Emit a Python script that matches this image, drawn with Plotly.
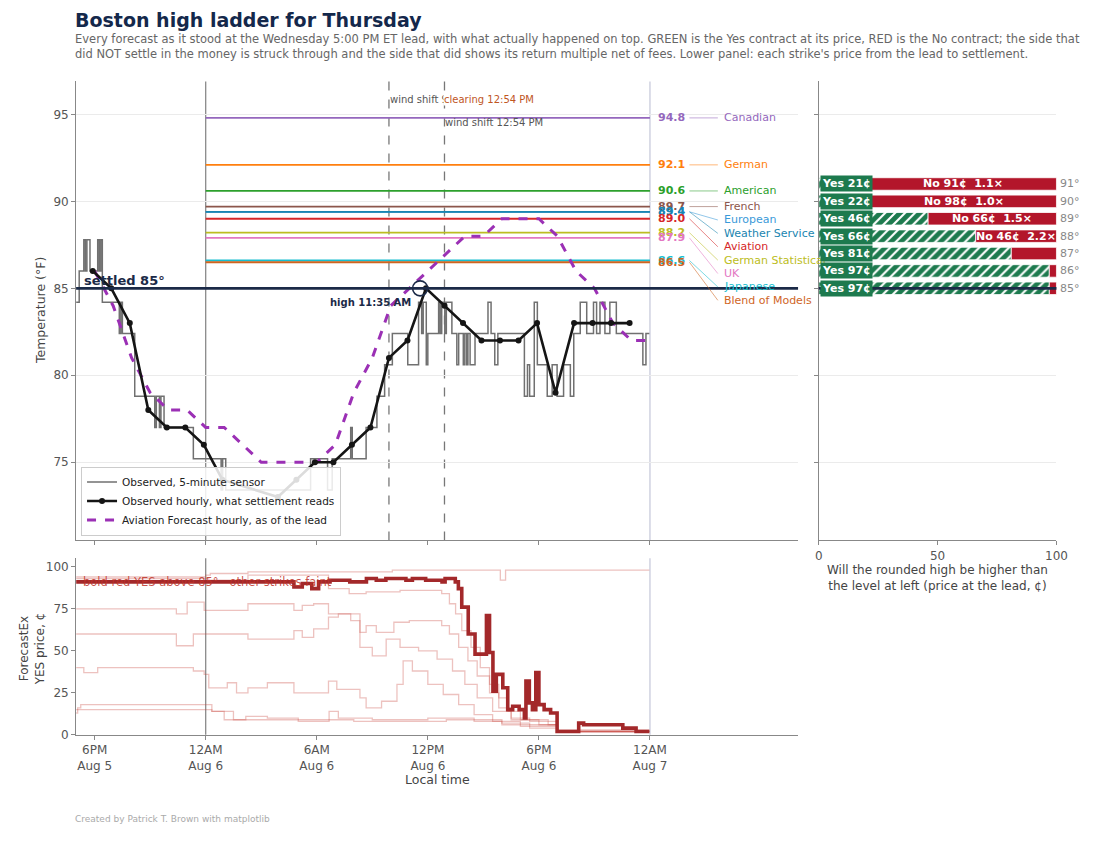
import plotly.graph_objects as go
import pandas as pd

YEAR = "2026-"

# ---- observed temperatures ----
obs5_time = ["08-05 17:00", "08-05 17:10", "08-05 17:25", "08-05 17:30", "08-05 17:35", "08-05 17:45",
             "08-05 18:10", "08-05 18:15", "08-05 18:20", "08-05 18:25", "08-05 19:20", "08-05 19:25",
             "08-05 19:30", "08-05 20:10", "08-05 21:15", "08-05 21:20", "08-05 21:30", "08-05 21:35",
             "08-05 21:45", "08-05 23:20", "08-06 00:50", "08-06 00:55", "08-06 01:05", "08-06 05:40",
             "08-06 06:35", "08-06 06:50", "08-06 07:50", "08-06 07:55", "08-06 08:40", "08-06 09:15",
             "08-06 09:40", "08-06 10:05", "08-06 10:55", "08-06 11:30", "08-06 11:40", "08-06 11:45",
             "08-06 11:55", "08-06 12:00", "08-06 12:35", "08-06 12:40", "08-06 12:45", "08-06 12:55",
             "08-06 13:00", "08-06 13:18", "08-06 13:34", "08-06 13:40", "08-06 13:55", "08-06 14:00",
             "08-06 14:06", "08-06 14:10", "08-06 14:17", "08-06 14:33", "08-06 15:15", "08-06 15:25",
             "08-06 15:37", "08-06 15:47", "08-06 17:13", "08-06 17:23", "08-06 17:30", "08-06 17:45",
             "08-06 17:55", "08-06 18:27", "08-06 18:43", "08-06 18:59", "08-06 19:20", "08-06 19:42",
             "08-06 19:53", "08-06 20:14", "08-06 20:35", "08-06 20:57", "08-06 21:07", "08-06 21:18",
             "08-06 21:34", "08-06 21:50", "08-06 22:11", "08-06 23:37", "08-06 23:47", "08-06 23:58"]
obs5_temp = [84.2, 86.0, 87.8, 86.0, 87.8, 86.0,
             87.8, 86.0, 87.8, 84.2, 82.4, 84.2,
             82.4, 78.8, 77.0, 78.8, 77.0, 78.8,
             77.0, 75.2, 73.4, 75.2, 73.4, 75.2,
             73.4, 75.2, 77.0, 75.2, 77.0, 78.8,
             80.6, 82.4, 80.6, 84.2, 82.4, 84.2,
             80.6, 82.4, 84.2, 82.4, 84.2, 82.4,
             84.2, 82.4, 80.6, 82.4, 80.6, 82.4,
             80.6, 82.4, 80.6, 82.4, 84.2, 82.4,
             80.6, 82.4, 78.8, 80.6, 78.8, 84.2,
             80.6, 78.8, 80.6, 78.8, 80.6, 78.8,
             82.4, 84.2, 82.4, 84.2, 82.4, 84.2,
             82.4, 84.2, 82.4, 80.6, 82.4, 82.4]

hourly_time = ["08-05 17:54", "08-05 18:54", "08-05 19:54", "08-05 20:54", "08-05 21:54", "08-05 22:54",
               "08-05 23:54", "08-06 00:54", "08-06 03:54", "08-06 04:54", "08-06 05:54", "08-06 06:54",
               "08-06 07:54", "08-06 08:54", "08-06 09:54", "08-06 10:54", "08-06 11:54", "08-06 12:54",
               "08-06 13:54", "08-06 14:54", "08-06 15:54", "08-06 16:54", "08-06 17:54", "08-06 18:54",
               "08-06 19:54", "08-06 20:54", "08-06 21:54", "08-06 22:54"]
hourly_temp = [86, 85, 83, 78, 77, 77, 76, 74, 73, 74, 75, 75, 76, 77, 81, 82, 85, 84,
               83, 82, 82, 82, 83, 79, 83, 83, 83, 83]

avn_time = ["08-05 18:00", "08-05 19:00", "08-05 20:00", "08-05 21:00", "08-05 22:00", "08-05 23:00",
            "08-06 00:00", "08-06 01:00", "08-06 02:00", "08-06 03:00", "08-06 04:00", "08-06 05:00",
            "08-06 06:00", "08-06 07:00", "08-06 08:00", "08-06 09:00", "08-06 10:00", "08-06 11:00",
            "08-06 12:00", "08-06 13:00", "08-06 14:00", "08-06 15:00", "08-06 16:00", "08-06 17:00",
            "08-06 18:00", "08-06 19:00", "08-06 20:00", "08-06 21:00", "08-06 22:00", "08-06 23:00",
            "08-07 00:00"]
avn_temp = [86, 84, 81, 79, 78, 78, 77, 77, 76, 75, 75, 75, 75, 76, 79, 81, 84, 85,
            86, 87, 88, 88, 89, 89, 89, 88, 86, 85, 83, 82, 82]

settled_temp = 85
high_time = "08-06 11:35"
high_temp = 85

# ---- model forecasts for the day, as of the lead ----
model_names = ["Canadian", "German", "American", "French", "European", "Weather Service",
               "Aviation", "German Statistical", "UK", "Japanese", "Blend of Models"]
model_values = [94.8, 92.1, 90.6, 89.7, 89.4, 89.4, 89.0, 88.2, 87.9, 86.6, 86.5]
forecast_start = "08-06 00:00"
forecast_end = "08-07 00:00"

event_time = ["08-06 09:54", "08-06 12:54"]

# ---- ladder at the lead ----
ladder_strikes = [91, 90, 89, 88, 87, 86, 85]
ladder_yes = [21, 22, 46, 66, 81, 97, 97]
ladder_no = [91, 98, 66, 46, None, None, None]
ladder_mult = [1.1, 1.0, 1.5, 2.2, None, None, None]

# ---- ForecastEx YES prices from lead to settlement ----
bold_time = ["08-05 17:00", "08-06 04:46", "08-06 05:13", "08-06 05:44", "08-06 06:06", "08-06 06:43",
             "08-06 07:47", "08-06 08:41", "08-06 09:13", "08-06 09:44", "08-06 10:27", "08-06 10:49",
             "08-06 11:10", "08-06 11:53", "08-06 12:46", "08-06 12:56", "08-06 13:29", "08-06 13:39",
             "08-06 13:50", "08-06 14:11", "08-06 14:33", "08-06 15:10", "08-06 15:20", "08-06 15:31",
             "08-06 15:42", "08-06 16:03", "08-06 16:19", "08-06 16:35", "08-06 16:56", "08-06 17:13",
             "08-06 17:18", "08-06 17:29", "08-06 17:39", "08-06 17:50", "08-06 18:00", "08-06 18:17",
             "08-06 18:38", "08-06 18:59", "08-06 20:09", "08-06 20:25", "08-06 22:32", "08-06 23:15",
             "08-06 23:58"]
bold_price = [91, 88, 90, 87, 91, 92,
              91, 93, 92, 93, 93, 92,
              93, 92, 91, 93, 91, 87,
              76, 60, 48, 71, 49, 26,
              36, 28, 15, 17, 15, 10,
              32, 19, 15, 37, 18, 15,
              13, 2, 7, 6, 4, 2,
              2]

faint_times = [
    ["08-05 17:00", "08-06 00:00", "08-06 00:15", "08-06 02:17", "08-06 10:05", "08-06 15:55",
     "08-06 16:12", "08-06 23:58"],
    ["08-05 17:00", "08-06 00:10", "08-06 02:17", "08-06 06:38", "08-06 07:45", "08-06 08:40",
     "08-06 10:30", "08-06 12:45", "08-06 13:10", "08-06 13:30", "08-06 13:50", "08-06 14:20",
     "08-06 14:50", "08-06 15:20", "08-06 15:50", "08-06 16:20", "08-06 17:00", "08-06 18:30",
     "08-06 19:00", "08-06 23:58"],
    ["08-05 17:00", "08-05 22:25", "08-05 23:00", "08-05 23:55", "08-06 02:17", "08-06 04:46",
     "08-06 05:13", "08-06 05:50", "08-06 06:38", "08-06 08:20", "08-06 08:40", "08-06 09:13",
     "08-06 10:10", "08-06 11:00", "08-06 12:45", "08-06 13:10", "08-06 13:40", "08-06 14:10",
     "08-06 14:40", "08-06 15:20", "08-06 15:50", "08-06 16:30", "08-06 17:30", "08-06 19:00",
     "08-06 23:58"],
    ["08-05 17:00", "08-05 22:25", "08-05 23:20", "08-06 02:17", "08-06 04:46", "08-06 05:13",
     "08-06 05:50", "08-06 06:38", "08-06 07:10", "08-06 07:50", "08-06 08:20", "08-06 09:00",
     "08-06 09:45", "08-06 10:30", "08-06 11:30", "08-06 12:30", "08-06 13:20", "08-06 14:00",
     "08-06 14:40", "08-06 15:30", "08-06 16:30", "08-06 18:00", "08-06 19:00", "08-06 23:58"],
    ["08-05 17:00", "08-05 17:25", "08-05 18:10", "08-05 23:20", "08-05 23:55", "08-06 00:10",
     "08-06 01:10", "08-06 01:40", "08-06 02:17", "08-06 03:20", "08-06 04:46", "08-06 06:38",
     "08-06 07:05", "08-06 08:20", "08-06 08:40", "08-06 09:30", "08-06 10:20", "08-06 10:40",
     "08-06 11:10", "08-06 12:00", "08-06 12:50", "08-06 13:40", "08-06 14:30", "08-06 15:30",
     "08-06 17:00", "08-06 19:00", "08-06 23:58"],
    ["08-05 17:00", "08-05 17:05", "08-05 17:15", "08-06 00:05", "08-06 00:20", "08-06 01:30",
     "08-06 02:10", "08-06 03:20", "08-06 05:00", "08-06 06:40", "08-06 07:10", "08-06 09:00",
     "08-06 12:00", "08-06 14:30", "08-06 16:00", "08-06 19:00", "08-06 23:58"],
    ["08-05 17:00", "08-06 00:00", "08-06 00:20", "08-06 01:00", "08-06 02:30", "08-06 05:00",
     "08-06 08:00", "08-06 10:00", "08-06 13:00", "08-06 16:00", "08-06 17:30", "08-06 19:00",
     "08-06 23:58"],
]
faint_prices = [
    [94, 95, 96, 97, 98, 92, 98, 98],
    [93, 92, 95, 87, 84, 85, 86, 84, 78, 72, 62, 52, 40, 30, 22, 14, 9, 6, 3, 3],
    [75, 72, 79, 74, 78, 74, 77, 78, 72, 61, 65, 61, 67, 68, 65, 60, 52, 44, 35, 25, 16, 10, 8, 2, 2],
    [60, 53, 60, 57, 62, 58, 63, 70, 72, 68, 52, 47, 57, 52, 50, 45, 38, 30, 22, 14, 9, 6, 2, 2],
    [40, 37, 40, 38, 36, 28, 31, 25, 28, 31, 25, 32, 27, 22, 16, 20, 30, 44, 38, 30, 24, 18, 12, 8, 5, 2, 2],
    [13, 16, 18, 18, 14, 9, 11, 10, 8, 14, 10, 9, 10, 8, 6, 2, 2],
    [15, 15, 14, 9, 9, 9, 8, 8, 9, 7, 4, 2, 2],
]

time_ticks = ["08-05 18:00", "08-06 00:00", "08-06 06:00", "08-06 12:00", "08-06 18:00", "08-07 00:00"]
time_tick_text = ["6PM<br>Aug 5", "12AM<br>Aug 6", "6AM<br>Aug 6", "12PM<br>Aug 6", "6PM<br>Aug 6", "12AM<br>Aug 7"]


def ts(s):
    if isinstance(s, list):
        return pd.to_datetime([YEAR + v for v in s])
    return pd.Timestamp(YEAR + s)


# styles
FONT = "DejaVu Sans"
NAVY = "#1b2a47"
GREEN = "#1d7a4e"
RED = "#b3162b"
model_colors = {"Canadian": "#9467bd", "German": "#ff7f0e", "American": "#2ca02c", "French": "#8c564b",
                "European": "#3a9ad9", "Weather Service": "#1a85b0", "Aviation": "#d62728",
                "German Statistical": "#bcbd22", "UK": "#e377c2", "Japanese": "#17becf",
                "Blend of Models": "#d0651f"}
LABEL_GAP = 0.77

# the page puts the figure 8px in from the top-left corner, so the figure is
# 8px smaller and every window pixel position is shifted back by 8
PAGE_OFF = 8
W, H = 1100 - PAGE_OFF, 843 - PAGE_OFF


def fx(x):
    return (x - PAGE_OFF) / W


def fy(y):
    return 1 - (y - PAGE_OFF) / H


MAIN_X = [fx(73), fx(805)]
LAD_X = [fx(826), fx(1067)]
MAIN_Y = [fy(545), fy(82)]
BOT_Y = [fy(741), fy(563)]


def paper_note(x, y, text, size, color, **kw):
    # annotation placed by window pixel position
    d = dict(x=fx(x), y=fy(y), xref="paper", yref="paper", text=text, showarrow=False,
             xanchor="center", yanchor="middle", borderpad=0, font=dict(size=size, color=color))
    d.update(kw)
    return d


fig = go.Figure()

# forecast lines (below everything else)
for name, val in zip(model_names, model_values):
    fig.add_trace(go.Scatter(x=[ts(forecast_start), ts(forecast_end)], y=[val, val], mode="lines",
                             line=dict(color=model_colors[name], width=1.8), showlegend=False,
                             hoverinfo="skip", xaxis="x", yaxis="y"))

fig.add_trace(go.Scatter(x=ts(obs5_time), y=obs5_temp, mode="lines", name="Observed, 5-minute sensor",
                         line=dict(color="#707070", width=1.5, shape="hv"), legendrank=1,
                         xaxis="x", yaxis="y"))
fig.add_trace(go.Scatter(x=ts(avn_time), y=avn_temp, mode="lines", name="Aviation Forecast hourly, as of the lead",
                         line=dict(color="#9b30b5", width=3, dash="dash"), legendrank=3,
                         xaxis="x", yaxis="y"))
fig.add_trace(go.Scatter(x=ts(hourly_time), y=hourly_temp, mode="lines+markers",
                         name="Observed hourly, what settlement reads",
                         line=dict(color="#151515", width=2.6), marker=dict(size=6, color="#151515"),
                         legendrank=2, xaxis="x", yaxis="y"))
fig.add_trace(go.Scatter(x=[ts(high_time)], y=[high_temp], mode="markers", showlegend=False,
                         marker=dict(size=15, color="rgba(0,0,0,0)", line=dict(color=NAVY, width=1.6)),
                         xaxis="x", yaxis="y"))

# price history panel
for t, p in zip(faint_times, faint_prices):
    fig.add_trace(go.Scatter(x=ts(t), y=p, mode="lines", showlegend=False,
                             line=dict(color="rgba(200,70,60,0.33)", width=1.3, shape="hv"),
                             xaxis="x2", yaxis="y2"))
fig.add_trace(go.Scatter(x=ts(bold_time), y=bold_price, mode="lines", showlegend=False,
                         line=dict(color="#a3282a", width=3.6, shape="hv"), xaxis="x2", yaxis="y2"))

# ladder bars
fig.add_trace(go.Bar(y=ladder_strikes, x=ladder_yes, base=0, orientation="h", width=0.72,
                     marker=dict(color=GREEN, line=dict(color="white", width=0.8),
                                 pattern=dict(shape="/", fgcolor="white", bgcolor=GREEN, size=7,
                                              solidity=0.3, fillmode="replace")),
                     showlegend=False, xaxis="x3", yaxis="y3"))
fig.add_trace(go.Bar(y=ladder_strikes, x=[100 - v for v in ladder_yes], base=ladder_yes, orientation="h",
                     width=0.72, marker=dict(color=RED, line=dict(color="white", width=0.8)),
                     showlegend=False, xaxis="x3", yaxis="y3"))

shapes = []
# midnight lines through both panels
for xref, yref in [("x", "y domain"), ("x2", "y2 domain")]:
    shapes.append(dict(type="line", xref=xref, yref=yref, x0=ts(forecast_start), x1=ts(forecast_start),
                       y0=0, y1=1, line=dict(color="#8a8a8a", width=1.3), layer="below"))
    shapes.append(dict(type="line", xref=xref, yref=yref, x0=ts(forecast_end), x1=ts(forecast_end),
                       y0=0, y1=1, line=dict(color="#c9cbdc", width=1.3), layer="below"))
for et in event_time:
    shapes.append(dict(type="line", xref="x", yref="y domain", x0=ts(et), x1=ts(et), y0=0, y1=1,
                       line=dict(color="#777", width=1.3, dash="dash"), layer="below"))
# settled line
shapes.append(dict(type="line", xref="x domain", yref="y", x0=0, x1=1, y0=settled_temp, y1=settled_temp,
                   line=dict(color=NAVY, width=2.6), layer="above"))
shapes.append(dict(type="line", xref="x3 domain", yref="y3", x0=0, x1=1, y0=settled_temp, y1=settled_temp,
                   line=dict(color=NAVY, width=2.6), layer="above"))

annotations = []

# spread the model name labels so they do not collide
order = sorted(range(len(model_values)), key=lambda i: -model_values[i])
label_y = {}
prev = None
for i in order:
    y = model_values[i] if prev is None else min(model_values[i], prev - LABEL_GAP)
    label_y[i] = y
    prev = y

for i, (name, val) in enumerate(zip(model_names, model_values)):
    c = model_colors[name]
    annotations.append(dict(x=ts("08-07 00:20"), y=val, xref="x", yref="y", text=f"<b>{val:.1f}</b>",
                            showarrow=False, xanchor="left", yanchor="middle", font=dict(size=11, color=c)))
    shapes.append(dict(type="line", xref="x", yref="y", x0=ts("08-07 02:08"), x1=ts("08-07 03:40"),
                       y0=val, y1=label_y[i], line=dict(color=c, width=1), opacity=0.55))
    annotations.append(dict(x=ts("08-07 03:52"), y=label_y[i], xref="x", yref="y", text=name,
                            showarrow=False, xanchor="left", yanchor="middle", font=dict(size=11, color=c)))

# event labels
annotations.append(dict(x=ts(event_time[0]), y=fy(100), xref="x", yref="paper",
                        text="wind shift 9:54 AM", showarrow=False, xanchor="left", yanchor="middle", xshift=-1,
                        font=dict(size=10, color="#555")))
annotations.append(dict(x=ts(event_time[1]), y=fy(100), xref="x", yref="paper",
                        text="clearing 12:54 PM", showarrow=False, xanchor="left", yanchor="middle", xshift=-1,
                        bgcolor="white", borderpad=0, font=dict(size=10, color="#c0561f")))
annotations.append(dict(x=ts(event_time[1]), y=fy(123), xref="x", yref="paper",
                        text="wind shift 12:54 PM", showarrow=False, xanchor="left", yanchor="middle", xshift=-1,
                        font=dict(size=10, color="#555")))

annotations.append(dict(x=fx(79), y=settled_temp, xref="paper", yref="y", text=f"<b>settled {settled_temp}°</b>",
                        showarrow=False, xanchor="left", yanchor="bottom", yshift=-2,
                        font=dict(size=13, color=NAVY)))
annotations.append(dict(x=ts(high_time), y=high_temp, xref="x", yref="y", text="<b>high 11:35 AM</b>",
                        showarrow=False, xanchor="right", yanchor="top", xshift=-7, yshift=-7,
                        font=dict(size=10, color=NAVY)))

# ladder labels
for s, yes, no, mult in zip(ladder_strikes, ladder_yes, ladder_no, ladder_mult):
    annotations.append(dict(x=0, y=s, xref="x3", yref="y3", text=f"<b>Yes {yes}¢</b>", showarrow=False,
                            xanchor="left", yanchor="middle", xshift=1, bgcolor=GREEN, borderpad=1,
                            font=dict(size=11, color="white")))
    if no is not None:
        annotations.append(dict(x=(yes + 100) / 2, y=s, xref="x3", yref="y3",
                                text=f"<b>No {no}¢\u00a0\u00a0{mult:.1f}×</b>", showarrow=False,
                                xanchor="center", yanchor="middle", font=dict(size=11, color="white")))
    annotations.append(dict(x=100, y=s, xref="x3", yref="y3", text=f"{s}°", showarrow=False,
                            xanchor="left", yanchor="middle", xshift=2, font=dict(size=11, color="#888")))

annotations.append(dict(x=fx(78), y=91, xref="paper", yref="y2",
                        text="bold red YES above 85°\u00a0\u00a0\u00a0other strikes faint",
                        showarrow=False, xanchor="left", yanchor="middle",
                        font=dict(size=11.5, color="rgba(190,50,40,0.85)")))

# titles and axis titles
annotations += [
    paper_note(71, 20, "<b>Boston high ladder for Thursday</b>", 19, "#14284b", xanchor="left"),
    paper_note(71, 47, "Every forecast as it stood at the Wednesday 5:00 PM ET lead, with what actually happened on top. "
                       "GREEN is the Yes contract at its price, RED is the No contract; the side that<br>"
                       "did NOT settle in the money is struck through and the side that did shows its return multiple "
                       "net of fees. Lower panel: each strike's price from the lead to settlement.",
               11.5, "#666", xanchor="left", align="left"),
    paper_note(71, 826, "Created by Patrick T. Brown with matplotlib", 9, "#aaa", xanchor="left"),
    paper_note(37, 313, "Temperature (°F)", 12.5, "#444", textangle=-90),
    paper_note(28, 655, "ForecastEx<br>YES price, ¢", 12, "#444", textangle=-90),
    paper_note(439, 786, "Local time", 12.5, "#444"),
    paper_note(946, 583, "Will the rounded high be higher than<br>the level at left (price at the lead, ¢)", 12, "#444"),
]

axis_common = dict(showline=True, linecolor="#888", linewidth=1, ticks="outside", ticklen=4,
                   tickcolor="#888", tickfont=dict(size=12, color="#555"), zeroline=False)

fig.update_layout(
    width=W, height=H,
    autosize=False,
    margin=dict(l=0, r=0, t=0, b=0),
    paper_bgcolor="white", plot_bgcolor="white",
    font=dict(family=FONT, color="#555"),
    barmode="overlay",
    hovermode=False,
    xaxis=dict(domain=MAIN_X, anchor="y", type="date", range=[ts("08-05 17:00"), ts("08-07 08:00")],
               tickvals=ts(time_ticks), showticklabels=False, showgrid=False, **axis_common),
    yaxis=dict(domain=MAIN_Y, anchor="x", range=[70.5, 96.9], tickvals=[75, 80, 85, 90, 95],
               showgrid=True, gridcolor="#ebebeb", **axis_common),
    xaxis2=dict(domain=MAIN_X, anchor="y2", type="date", matches="x", tickvals=ts(time_ticks),
                ticktext=time_tick_text, showgrid=False, **axis_common),
    yaxis2=dict(domain=BOT_Y, anchor="x2", range=[0, 105], tickvals=[0, 25, 50, 75, 100],
                showgrid=False, **axis_common),
    xaxis3=dict(domain=LAD_X, anchor="y3", range=[0, 100], tickvals=[0, 50, 100], showgrid=False,
                **axis_common),
    yaxis3=dict(domain=MAIN_Y, anchor="x3", matches="y", tickvals=[75, 80, 85, 90, 95], showticklabels=False,
                showgrid=True, gridcolor="#ebebeb", **axis_common),
    legend=dict(x=fx(78), y=fy(540), xanchor="left", yanchor="bottom", bgcolor="rgba(255,255,255,0.85)",
                bordercolor="#cccccc", borderwidth=1, font=dict(size=10.5, color="#222"), tracegroupgap=0),
    shapes=shapes,
    annotations=annotations,
)

fig.write_html("out.html", config={"displayModeBar": False})
